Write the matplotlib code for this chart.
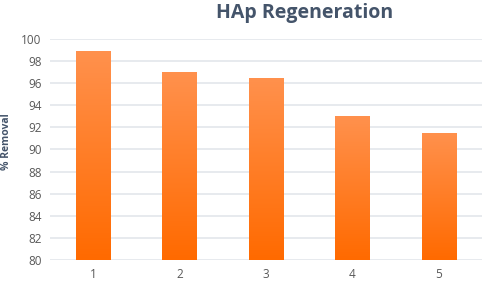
import numpy as np
import matplotlib.pyplot as plt
from matplotlib.colors import LinearSegmentedColormap

cycles = ['1', '2', '3', '4', '5']
removal = [98.9, 97.0, 96.5, 93.0, 91.5]
yticks = list(range(80, 101, 2))

fig = plt.figure(figsize=(4.84, 2.83), dpi=100)
ax = fig.add_axes([50 / 484, 1 - 260 / 283, 432 / 484, 221 / 283])

x = np.arange(len(cycles))
bars = ax.bar(x, removal, width=0.4, color='#FF7A1F', zorder=2)

# vertical gradient: lighter at top, deeper orange at bottom
cmap = LinearSegmentedColormap.from_list('org', ['#FF6A00', '#FF914D'])
grad = np.linspace(0, 1, 256).reshape(-1, 1)
for b in bars:
    x0, w, h = b.get_x(), b.get_width(), b.get_height()
    im = ax.imshow(grad, cmap=cmap, origin='lower', aspect='auto',
                   extent=(x0, x0 + w, 80, h), zorder=3)
    im.set_clip_path(b)

ax.set_xlim(-0.5, len(cycles) - 0.5)
ax.set_ylim(80, 100)
ax.set_xticks(x)
ax.set_xticklabels(cycles)
ax.set_yticks(yticks)
ax.grid(axis='y', color='#E3E6EB', linewidth=1.2, zorder=0)
ax.set_axisbelow(True)
for s in ax.spines.values():
    s.set_visible(False)
ax.tick_params(length=0, labelsize=8.5, colors='#595959')
ax.tick_params(axis='x', pad=6)
ax.tick_params(axis='y', pad=6)
for lbl in ax.get_xticklabels() + ax.get_yticklabels():
    lbl.set_family('Open Sans')

fig.text(7 / 484, 0.5, '% Removal', rotation=90, ha='center', va='center',
         fontsize=7.5, fontweight='bold', color='#44546A', family='Open Sans')
fig.text(305 / 484, 1 - 13 / 283, 'HAp Regeneration', ha='center', va='center',
         fontsize=14, fontweight='bold', color='#44546A', family='Open Sans')

plt.savefig('out.png', dpi=100)
